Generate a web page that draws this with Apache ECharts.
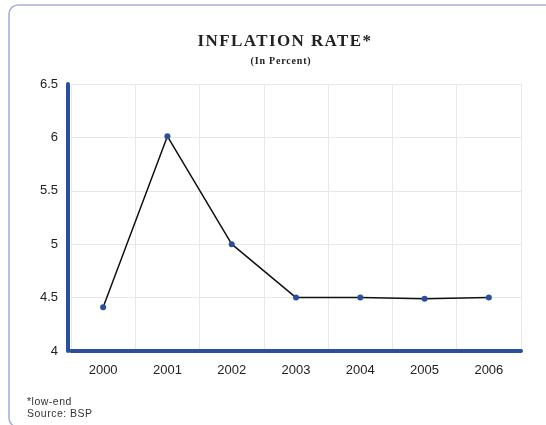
<!DOCTYPE html>
<html>
<head>
<meta charset="utf-8">
<script src="https://cdn.jsdelivr.net/npm/echarts@6/dist/echarts.min.js"></script>
<style>
  html, body { margin: 0; padding: 0; background: #ffffff; }
  #wrap { position: relative; width: 546px; height: 425px; overflow: hidden; }
  #chart { position: absolute; left: 0; top: 0; width: 546px; height: 425px; }
  .txt { position: absolute; white-space: nowrap; color: #222222; }
  #title {
    left: 285px; top: 32px; transform: translateX(-50%);
    font: bold 17px/17px "Liberation Serif", "DejaVu Serif", serif;
    letter-spacing: 1.4px;
  }
  #subtitle {
    left: 281px; top: 56px; transform: translateX(-50%);
    font: bold 10px/10px "Liberation Serif", "DejaVu Serif", serif;
    letter-spacing: 0.8px;
  }
  #note {
    left: 27px; top: 395px; color: #333333;
    font: 10.5px/12px "Liberation Sans", Arial, sans-serif;
    letter-spacing: 0.5px;
  }
</style>
</head>
<body>
<div id="wrap">
  <div id="chart"></div>
  <div class="txt" id="title">INFLATION RATE*</div>
  <div class="txt" id="subtitle">(In Percent)</div>
  <div class="txt" id="note">*low-end<br>Source: BSP</div>
</div>
<script>
// Annual inflation rate, in percent
const years = ['2000', '2001', '2002', '2003', '2004', '2005', '2006'];
const inflation = [4.41, 6.01, 5.0, 4.5, 4.5, 4.49, 4.5];
const yTicks = { min: 4, max: 6.5, step: 0.5 };

const axisBlue = '#2b4fa0';

const chart = echarts.init(document.getElementById('chart'), null, { renderer: 'canvas' });

chart.setOption({
  animation: false,
  backgroundColor: 'transparent',
  graphic: [
    {
      // rounded frame around the panel
      type: 'rect',
      shape: { x: 9, y: 5, width: 560, height: 422, r: 9 },
      style: { fill: 'none', stroke: '#aab0de', lineWidth: 1.6 },
      silent: true,
      z: -1
    }
  ],
  grid: {
    left: 71,
    right: 25,
    top: 84,
    bottom: 74,
    containLabel: false
  },
  xAxis: {
    type: 'category',
    data: years,
    boundaryGap: true,
    axisLine: { show: true, lineStyle: { color: axisBlue, width: 4 } },
    axisTick: { show: false },
    axisLabel: {
      color: '#222222',
      fontFamily: 'Liberation Sans, Arial, sans-serif',
      fontSize: 13,
      margin: 13
    },
    splitLine: { show: true, lineStyle: { color: '#e8e8e8', width: 1 } }
  },
  yAxis: {
    type: 'value',
    min: yTicks.min,
    max: yTicks.max,
    interval: yTicks.step,
    offset: 3,
    axisLine: { show: true, lineStyle: { color: axisBlue, width: 4 } },
    axisTick: { show: false },
    axisLabel: {
      color: '#222222',
      fontFamily: 'Liberation Sans, Arial, sans-serif',
      fontSize: 13,
      margin: 10
    },
    splitLine: { show: true, lineStyle: { color: '#e8e8e8', width: 1 } }
  },
  series: [
    {
      type: 'line',
      data: inflation,
      symbol: 'circle',
      symbolSize: 6,
      itemStyle: { color: axisBlue },
      lineStyle: { color: '#111111', width: 1.5 },
      z: 3
    }
  ]
});
</script>
</body>
</html>
